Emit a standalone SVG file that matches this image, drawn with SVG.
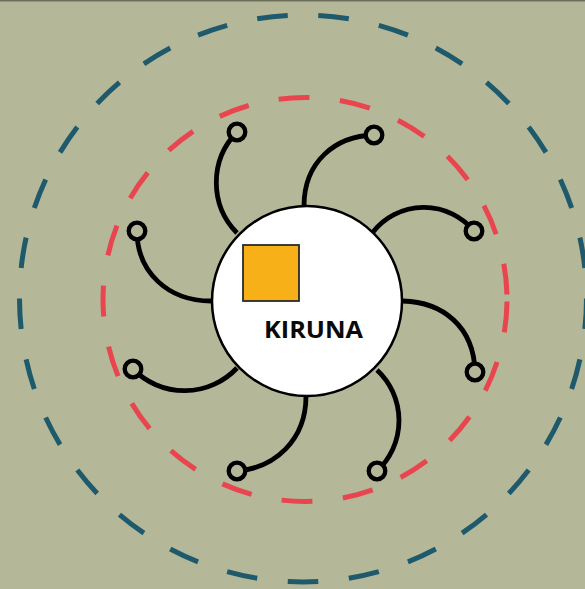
<svg xmlns="http://www.w3.org/2000/svg" width="585" height="589" viewBox="0 0 585 589">
  <style>
    .ring { fill: none; stroke-width: 5; }
    .blue { stroke: #1e5a6b; stroke-dasharray: 5 5; }
    .red { stroke: #e8454f; stroke-dasharray: 31 30.55; stroke-dashoffset: -2; }
    .arm { fill: none; stroke: #000; stroke-width: 4.8; }
    .tip { fill: #b4b898; stroke: #000; stroke-width: 4.3; }
    .label { font-family: "Open Sans", "Liberation Sans", sans-serif; font-weight: bold; font-size: 24px; fill: #0a0a0a; }
  </style>
  <rect x="0" y="0" width="585" height="589" fill="#b4b898"/>
  <rect x="0" y="0" width="585" height="1.5" fill="#6b6e5a"/>
  <g id="outer-ring">
    <circle class="ring blue" cx="303" cy="298.5" r="283.5" pathLength="290"/>
  </g>
  <g id="inner-ring">
    <circle class="ring red" cx="305" cy="299.5" r="202" pathLength="1269"/>
  </g>
  <g id="connectors">
    <path class="arm" d="M237,233 A72,72 0 0,1 237,132"/>
    <path class="arm" d="M304,206 C304,162 335,136 374,135"/>
    <path class="arm" d="M373,232 A65,65 0 0,1 474,231"/>
    <path class="arm" d="M403,301 C442,302 474,326 475,372"/>
    <path class="arm" d="M377,370 A69,69 0 0,1 377,471"/>
    <path class="arm" d="M306,396 C306,440 275,468 237,471"/>
    <path class="arm" d="M237,368 A72,72 0 0,1 133,369"/>
    <path class="arm" d="M211,301 C168,301 137,272 137,231"/>
  </g>
  <g id="tip-1"><circle class="tip" cx="237" cy="132" r="8.3"/></g>
  <g id="tip-2"><circle class="tip" cx="374" cy="135" r="8.3"/></g>
  <g id="tip-3"><circle class="tip" cx="474" cy="231" r="8.3"/></g>
  <g id="tip-4"><circle class="tip" cx="475" cy="372" r="8.3"/></g>
  <g id="tip-5"><circle class="tip" cx="377" cy="471" r="8.3"/></g>
  <g id="tip-6"><circle class="tip" cx="237" cy="471" r="8.3"/></g>
  <g id="tip-7"><circle class="tip" cx="133" cy="369" r="8.3"/></g>
  <g id="tip-8"><circle class="tip" cx="137" cy="231" r="8.3"/></g>
  <g id="kiruna">
    <circle cx="307" cy="301" r="95" fill="#fff" stroke="#000" stroke-width="2.5"/>
    <rect x="243" y="245" width="56" height="56" fill="#f8b018" stroke="#2a2a2a" stroke-width="1.8"/>
    <text class="label" x="264" y="338" textLength="99" lengthAdjust="spacingAndGlyphs">KIRUNA</text>
  </g>
</svg>
